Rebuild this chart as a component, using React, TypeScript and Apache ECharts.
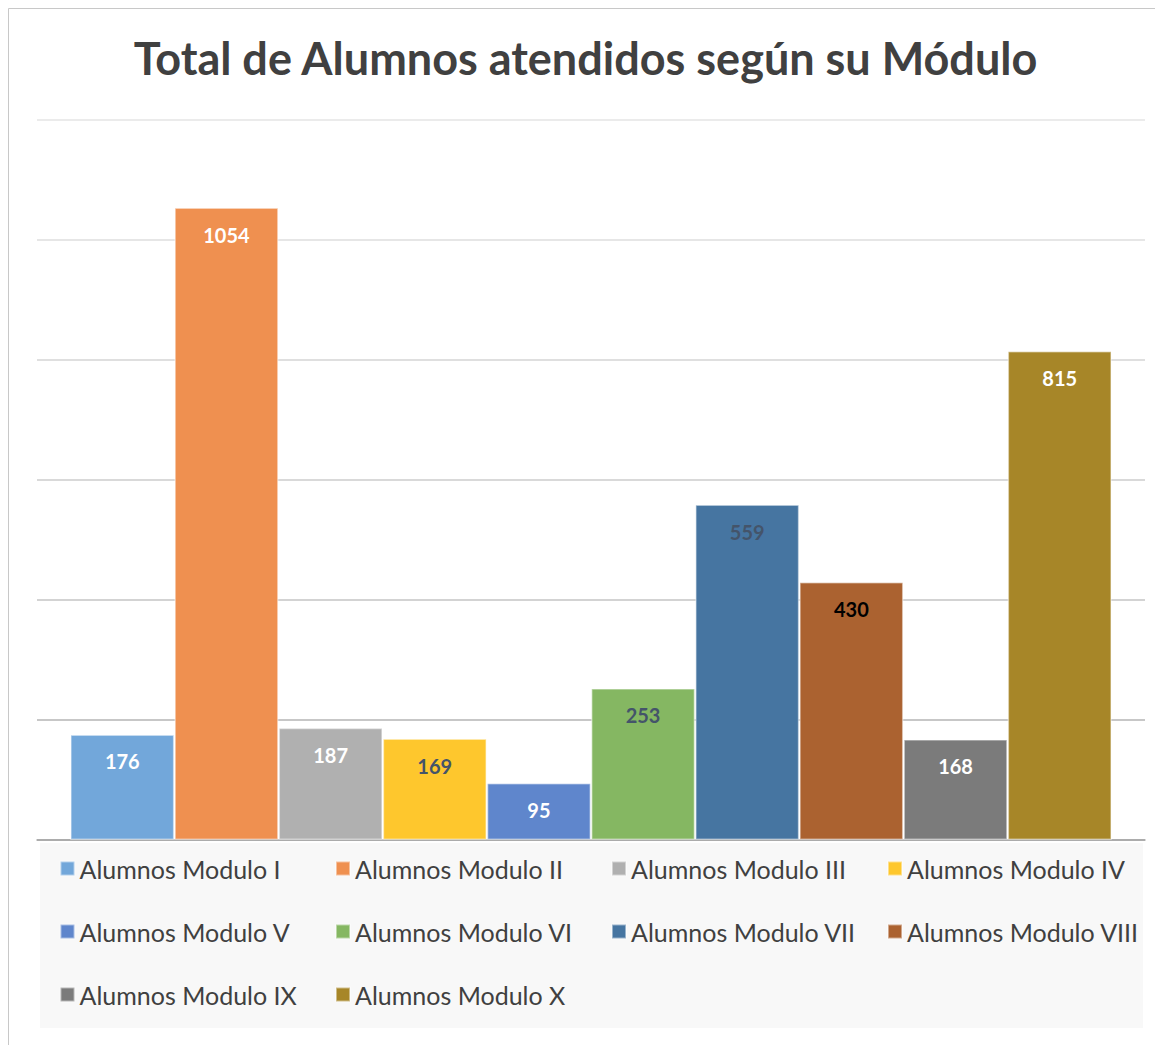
import React, { useEffect, useRef } from "react";
import * as echarts from "echarts";

const titleText = "Total de Alumnos atendidos según su Módulo";
const seriesNames = [
  "Alumnos Modulo I",
  "Alumnos Modulo II",
  "Alumnos Modulo III",
  "Alumnos Modulo IV",
  "Alumnos Modulo V",
  "Alumnos Modulo VI",
  "Alumnos Modulo VII",
  "Alumnos Modulo VIII",
  "Alumnos Modulo IX",
  "Alumnos Modulo X",
];
const seriesValues = [176, 1054, 187, 169, 95, 253, 559, 430, 168, 815];
const seriesColors = [
  "#72a7da",
  "#ef9050",
  "#b0b0b0",
  "#fec72d",
  "#5f86cc",
  "#85b762",
  "#4675a1",
  "#ab6230",
  "#7b7b7b",
  "#a78628",
];
const labelColors = [
  "#ffffff",
  "#ffffff",
  "#ffffff",
  "#44546a",
  "#ffffff",
  "#44546a",
  "#44546a",
  "#000000",
  "#ffffff",
  "#ffffff",
];
const categories = ["Total"];

const FONT = "Lato, 'Open Sans', sans-serif";

export default function App() {
  const ref = useRef<HTMLDivElement>(null);
  useEffect(() => {
    if (!ref.current) return;
    const chart = echarts.init(ref.current, undefined, { renderer: "svg" });
    const colLeft = [51.5, 327, 603, 879];
    const rowTop = [848, 911, 974];
    const legends = seriesNames.map((name, i) => ({
      data: [name],
      left: colLeft[i % 4],
      top: rowTop[Math.floor(i / 4)],
      padding: 0,
      icon: "rect",
      itemWidth: 14,
      itemHeight: 14,
      selectedMode: false,
      textStyle: { fontSize: 25, color: "#404040", fontFamily: FONT },
    }));
    chart.setOption({
      animation: false,
      backgroundColor: "#ffffff",
      title: {
        text: titleText,
        left: "center",
        top: 22,
        textStyle: {
          fontSize: 45,
          fontWeight: "bold",
          color: "#404040",
          fontFamily: FONT,
        },
      },
      graphic: [
        {
          type: "rect",
          shape: { x: 0.5, y: 0.5, width: 3000, height: 3000 },
          style: { fill: "none", stroke: "#c8c8c8", lineWidth: 1 },
          z: 100,
        },
        {
          type: "rect",
          shape: { x: 32, y: 835, width: 1103, height: 185 },
          style: { fill: "#f8f8f8" },
          z: -10,
        },
      ],
      legend: legends,
      grid: { left: 29, right: 18, top: 112, bottom: 205, containLabel: false },
      xAxis: {
        type: "category",
        data: categories,
        axisLine: { show: true, lineStyle: { color: "#a6a6a6", width: 1.5 } },
        axisTick: { show: false },
        axisLabel: { show: false },
      },
      yAxis: {
        type: "value",
        min: 0,
        max: 1200,
        interval: 200,
        axisLabel: { show: false },
        axisLine: { show: false },
        axisTick: { show: false },
        splitLine: {
          lineStyle: {
            color: ["#a6a6a6", "#b4b4b4", "#c4c4c4", "#cccccc", "#d4d4d4", "#dedede", "#e4e4e4"],
            width: 1.5,
          },
        },
      },
      series: seriesNames.map((name, i) => ({
        name,
        type: "bar",
        data: [seriesValues[i]],
        barGap: "0%",
        barCategoryGap: "6%",
        itemStyle: {
          color: seriesColors[i],
          borderColor: "rgba(255,255,255,0.45)",
          borderWidth: 1.5,
        },
        label: {
          show: true,
          position: "insideTop",
          distance: 17,
          fontSize: 20,
          fontWeight: "bold",
          color: labelColors[i],
          fontFamily: FONT,
        },
      })),
    });
    return () => chart.dispose();
  }, []);
  return <div ref={ref} style={{ width: 1155, height: 1037 }} />;
}
